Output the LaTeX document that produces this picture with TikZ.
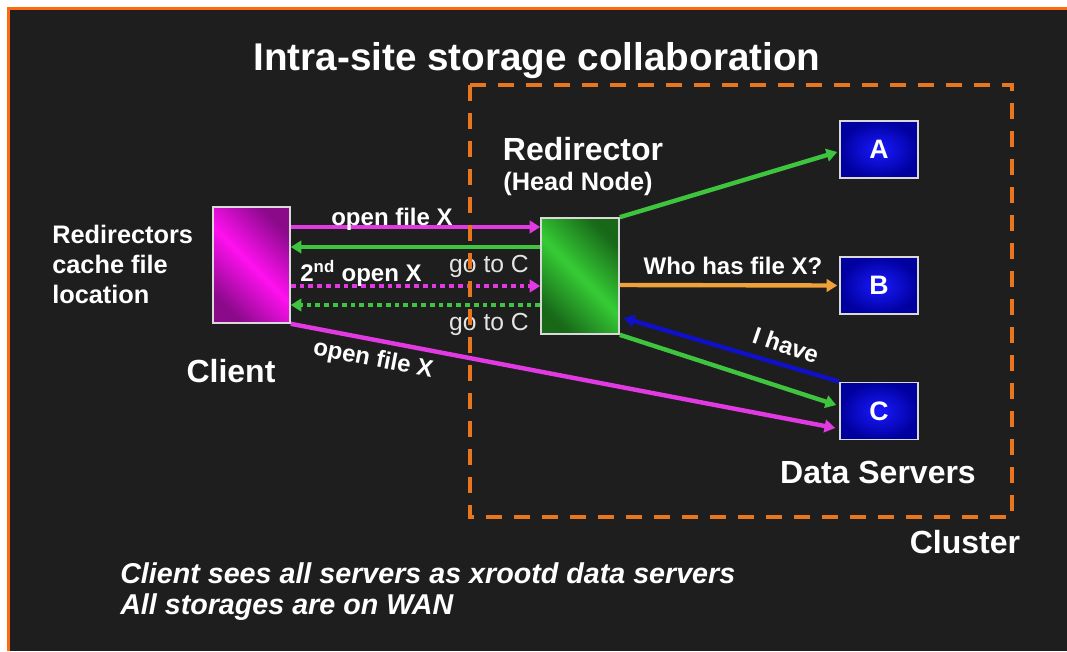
\documentclass[tikz,border=0pt]{standalone}
\usepackage{fontspec}
\setmainfont{Liberation Sans}
\usetikzlibrary{arrows.meta,calc}

\definecolor{bgcol}{HTML}{1E1E1E}
\definecolor{framecol}{HTML}{FF6A10}
\definecolor{clustercol}{HTML}{E8761E}
\definecolor{magcol}{HTML}{E23AE2}
\definecolor{grncol}{HTML}{3EC43E}
\definecolor{orgcol}{HTML}{F0A238}
\definecolor{blucol}{HTML}{1010C8}
\definecolor{greytxt}{HTML}{E4E4E4}
\definecolor{magbright}{HTML}{FF10F0}
\definecolor{magdark}{HTML}{8A0A8A}
\definecolor{grnbright}{HTML}{36CC36}
\definecolor{grndark}{HTML}{186818}

\tikzset{
  arr/.style={line width=3.3pt, line cap=butt, -{Triangle[length=8pt,width=9.5pt]}},
  dotarr/.style={arr, dash pattern=on 3.6pt off 3pt},
  boxbase/.style={draw=white!85!black, line width=1.2pt, inner sep=0pt},
  clientbox/.style={boxbase, minimum width=57.75pt, minimum height=87pt,
    top color=magdark, bottom color=magdark, middle color=magbright, shading angle=-45},
  redirbox/.style={boxbase, minimum width=58.5pt, minimum height=87pt,
    top color=grndark, bottom color=grndark, middle color=grnbright, shading angle=-45},
  serverbox/.style={boxbase, minimum width=58.5pt, minimum height=43pt,
    inner color=blue!90!white, outer color=blue!62!black,
    text=white, font=\bfseries\fontsize{20}{22}\selectfont},
  lbl/.style={text=white, inner sep=0pt, font=\bfseries\fontsize{18}{20}\selectfont},
  biglbl/.style={text=white, inner sep=0pt, font=\bfseries\fontsize{24}{26}\selectfont},
  gotxt/.style={text=greytxt, inner sep=0pt, font=\fontsize{18.5}{20}\selectfont},
  notetxt/.style={text=white, inner sep=0pt, anchor=base west, font=\bfseries\itshape\fontsize{21.5}{24}\selectfont},
  sidetxt/.style={text=white, inner sep=0pt, anchor=base west, font=\bfseries\fontsize{19}{21}\selectfont},
}

\begin{document}
\begin{tikzpicture}[x=0.75pt,y=-0.75pt]
\useasboundingbox (0,0) rectangle (1067,651);
% slide frame and background
\fill[white] (0,0) rectangle (1067,651);
\fill[framecol] (7,7) rectangle (1067,651);
\fill[bgcol] (10,10) rectangle (1067,651);

% title
\node[text=white, inner sep=0pt, anchor=base, font=\bfseries\fontsize{29}{32}\selectfont]
  (title) at (537,70) {Intra-site storage collaboration};

% boxes
\node[clientbox] (client) at (251.5,265) {};
\node[redirbox] (redir) at (580,276) {};
\node[serverbox] (A) at (879,149.5) {A};
\node[serverbox] (B) at (879,285.5) {B};
\node[serverbox] (C) at (879,411) {C};

% labels
\node[biglbl, anchor=base] (lredir) at (583,160) {Redirector};
\node[lbl, anchor=base, font=\bfseries\fontsize{19}{21}\selectfont] (lhead) at (578,190) {(Head Node)};
\node[biglbl, anchor=base] (lclient) at (231,382) {Client};
\node[biglbl, anchor=base] (lservers) at (878,483) {Data Servers};
\node[biglbl, anchor=base] (lcluster) at (965,553) {Cluster};
\node[sidetxt] (s1) at (52,243) {Redirectors};
\node[sidetxt] (s2) at (52,273) {cache file};
\node[sidetxt] (s3) at (52,303) {location};
\node[notetxt] (n1) at (120,583) {Client sees all servers as xrootd data servers};
\node[notetxt] (n2) at (120,614) {All storages are on WAN};

% messages between client, redirector and servers
\draw[arr, magcol] ($(client.east)+(0,-38)$) -- ($(redir.west)+(0,-49)$);
\draw[arr, grncol] ($(redir.west)+(0,-29)$) -- ($(client.east)+(0,-18)$);
\draw[dotarr, magcol] ($(client.east)+(0,21)$) -- ($(redir.west)+(0,10)$);
\draw[dotarr, grncol] ($(redir.west)+(0,29)$) -- ($(client.east)+(0,40)$);
\draw[arr, magcol] (client.south east) -- ($(C.west)+(-4,17)$);
\draw[arr, grncol] (redir.north east) -- ($(A.west)+(-2,2.5)$);
\draw[arr, orgcol] ($(redir.east)+(0,9)$) -- ($(B.west)+(-2,0)$);
\draw[arr, grncol] (redir.south east) -- ($(C.west)+(-3,-6)$);
\draw[arr, blucol] (C.north west) -- ($(redir.east)+(4,42)$);

\node[lbl, anchor=base] (m1) at (392,225) {open file X};
\node[gotxt, anchor=base] (m2) at (489,272) {go to C};
\node[lbl, anchor=base] (m3) at (361,281) {2\textsuperscript{nd} open X};
\node[gotxt, anchor=base] (m4) at (489,330) {go to C};
\node[lbl, rotate=-11] (m5) at (373,360) {open file X};
\node[lbl, anchor=base] (m6) at (733,274) {Who has file X?};
\node[lbl, rotate=-19] (m7) at (786,345) {I have};

% cluster boundary
\draw[clustercol, line width=3pt, dash pattern=on 12pt off 9pt] (470,85) rectangle (1012,517);
\end{tikzpicture}
\end{document}
